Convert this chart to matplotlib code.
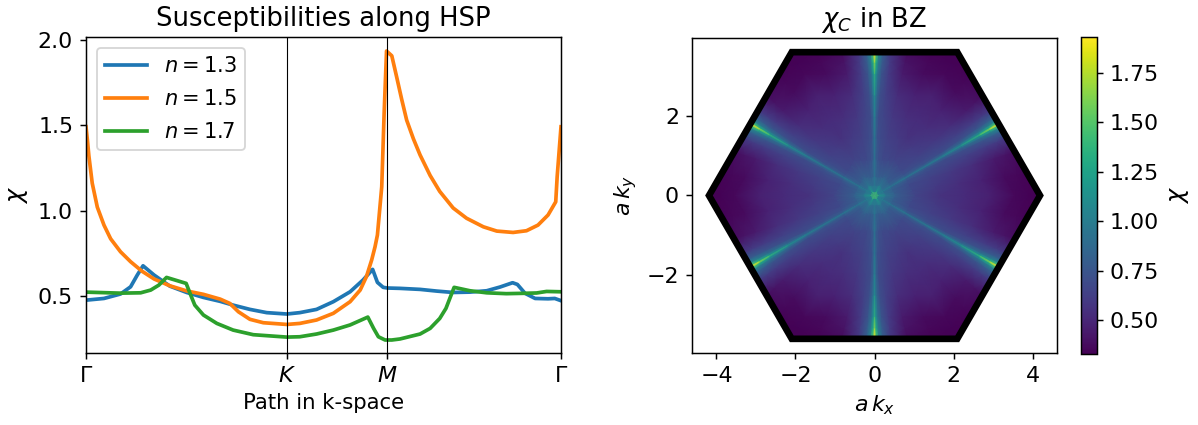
import numpy as np
import matplotlib
matplotlib.use("Agg")
import matplotlib.pyplot as plt

# high symmetry path, in units of 1/a
k_ticks = [0, 4.19, 6.28, 9.91]
k_labels = [r"$\Gamma$", r"$K$", r"$M$", r"$\Gamma$"]

k_13 = [0, .375, .72, .93, 1.07, 1.19, 1.42, 1.75, 2.10, 2.45, 2.80, 3.07, 3.42, 3.77, 4.19, 4.46, 4.81,
        5.16, 5.51, 5.78, 5.98, 6.08, 6.20, 6.29, 6.55, 6.97, 7.32, 7.66, 8.01, 8.36, 8.64, 8.90,
        9.00, 9.16, 9.37, 9.64, 9.78, 9.91]
chi_13 = [.476, .486, .512, .554, .623, .677, .623, .558, .521, .492, .469, .447, .422, .403, .395, .403, .422,
          .467, .525, .594, .656, .580, .551, .547, .545, .539, .529, .521, .523, .531, .553, .578,
          .568, .516, .486, .484, .486, .473]

k_15 = [0, .03, .06, .13, .236, .375, .514, .72, .93, 1.17, 1.42, 1.75, 2.10, 2.45, 2.80, 3.00, 3.18, 3.42, 3.70, 4.19,
        4.46, 4.81, 5.16, 5.51, 5.72, 5.85, 5.96, 6.03, 6.08, 6.17, 6.22, 6.27, 6.38, 6.48, 6.585, 6.69,
        6.83, 6.97, 7.18, 7.38, 7.66, 7.94, 8.29, 8.57, 8.91, 9.19, 9.43, 9.64, 9.80, 9.83, 9.91]
chi_15 = [1.49, 1.41, 1.32, 1.16, 1.02, .915, .835, .759, .701, .645, .600, .560, .530, .510, .482, .457, .408, .364, .344, .334,
          .340, .360, .399, .467, .535, .613, .711, .788, .857, 1.139, 1.568, 1.933, 1.905, 1.783, 1.652, 1.529,
          1.42, 1.325, 1.205, 1.112, 1.015, .955, .905, .880, .872, .882, .915, .974, 1.051, 1.198, 1.49]

k_17 = [0, .72, 1.14, 1.35, 1.52, 1.68, 2.09, 2.17, 2.27, 2.45, 2.73, 3.07, 3.49, 4.19, 4.46, 4.81,
        5.16, 5.51, 5.88, 6.00, 6.10, 6.24, 6.38, 6.55, 6.97, 7.18, 7.38, 7.51, 7.59, 7.68, 8.01, 8.36, 8.77, 9.12,
        9.40, 9.61, 9.91]
chi_17 = [.523, .517, .519, .535, .564, .609, .574, .516, .447, .389, .340, .301, .274, .260, .262, .278,
          .301, .331, .377, .311, .262, .243, .243, .249, .278, .311, .369, .428, .486, .551, .531, .519, .514, .516,
          .518, .527, .525]

# BZ corners and edge midpoints
K_pt = [4.19, 0.0]
M_pt = [3.14, 1.81]

# chi in one wedge of the BZ: rows go from Gamma to the edge, columns from the M ray to the K ray
s_wedge = [0, .03, .07, .13, .25, .4, .55, .7, .85, .93, 1]
t_wedge = [0, .02, .05, .1, .2, .4, .7, 1]
chi_wedge = [
    [1.50, 1.50, 1.50, 1.50, 1.50, 1.50, 1.50, 1.50],
    [1.08, 1.08, 1.05, 1.03, 1.03, 1.03, 1.10, 1.20],
    [1.00, 1.00, .98, .96, .94, .92, .94, .97],
    [.98, .95, .92, .88, .84, .80, .80, .81],
    [.95, .91, .85, .78, .72, .68, .67, .65],
    [.97, .90, .80, .72, .68, .64, .60, .56],
    [1.00, .90, .78, .69, .66, .59, .54, .52],
    [1.10, .97, .82, .70, .63, .53, .48, .47],
    [1.38, 1.12, .90, .74, .61, .44, .38, .36],
    [1.65, 1.28, .98, .78, .60, .41, .36, .34],
    [1.92, 1.50, 1.05, .80, .58, .38, .34, .33],
]

W, H = 1198, 425
DPI = 133


def px_rect(x0, x1, y0, y1):
    return [x0 / W, 1 - y1 / H, (x1 - x0) / W, (y1 - y0) / H]


def main():
    fig = plt.figure(figsize=(W / DPI, H / DPI), dpi=DPI)

    # left panel
    ax = fig.add_axes(px_rect(86, 561, 37, 353))
    ax.plot(k_13, chi_13, label=r"$n=1.3$", lw=2)
    ax.plot(k_15, chi_15, label=r"$n=1.5$", lw=2)
    ax.plot(k_17, chi_17, label=r"$n=1.7$", lw=2)
    ax.axvline(k_ticks[1], color="k", lw=0.6)
    ax.axvline(k_ticks[2], color="k", lw=0.6)
    ax.set_xlim(k_ticks[0], k_ticks[-1])
    ax.set_ylim(0.167, 2.015)
    ax.set_xticks(k_ticks, k_labels, fontsize=12)
    ax.set_yticks([0.5, 1.0, 1.5, 2.0])
    ax.tick_params(axis="y", labelsize=12)
    ax.set_xlabel("Path in k-space", fontsize=11.5)
    ax.set_ylabel(r"$\chi$", fontsize=13)
    ax.set_title("Susceptibilities along HSP", fontsize=14)
    ax.legend(loc="upper left", fontsize=11.4, labelspacing=0.62, borderaxespad=0.5)

    # right panel, 12 mirrored copies of the wedge
    ax2 = fig.add_axes(px_rect(692, 1057, 37, 354))
    s, t = np.meshgrid(s_wedge, t_wedge, indexing="ij")
    c = np.array(chi_wedge)
    x0 = s * (M_pt[0] + t * (K_pt[0] - M_pt[0]))
    y0 = s * (M_pt[1] + t * (K_pt[1] - M_pt[1]))
    for i in range(6):
        a = i * np.pi / 3
        for sign in (1, -1):
            x = np.cos(a) * x0 - np.sin(a) * sign * y0
            y = np.sin(a) * x0 + np.cos(a) * sign * y0
            mesh = ax2.pcolormesh(x, y, c, shading="gouraud", cmap="viridis", vmin=0.33, vmax=1.93, rasterized=True)
    corners = [[K_pt[0] * np.cos(i * np.pi / 3), K_pt[0] * np.sin(i * np.pi / 3)] for i in range(6)]
    ax2.add_patch(plt.Polygon(corners, closed=True, fill=False, edgecolor="k", lw=3.6, joinstyle="miter"))
    ax2.set_xlim(-4.62, 4.62)
    ax2.set_ylim(-3.99, 3.99)
    ax2.set_aspect("equal")
    ax2.set_xticks([-4, -2, 0, 2, 4])
    ax2.set_yticks([-2, 0, 2])
    ax2.tick_params(labelsize=12)
    ax2.set_xlabel(r"$a\,k_x$", fontsize=12)
    ax2.set_ylabel(r"$a\,k_y$", fontsize=12)
    ax2.set_title(r"$\chi_C$ in BZ", fontsize=14)

    cax = fig.add_axes(px_rect(1081, 1097, 37, 354))
    cb = fig.colorbar(mesh, cax=cax)
    cb.set_ticks([0.5, 0.75, 1.0, 1.25, 1.5, 1.75])
    cb.ax.tick_params(labelsize=12)
    cb.set_label(r"$\chi$", fontsize=13)

    fig.savefig("out.png", dpi=DPI)


if __name__ == "__main__":
    main()
